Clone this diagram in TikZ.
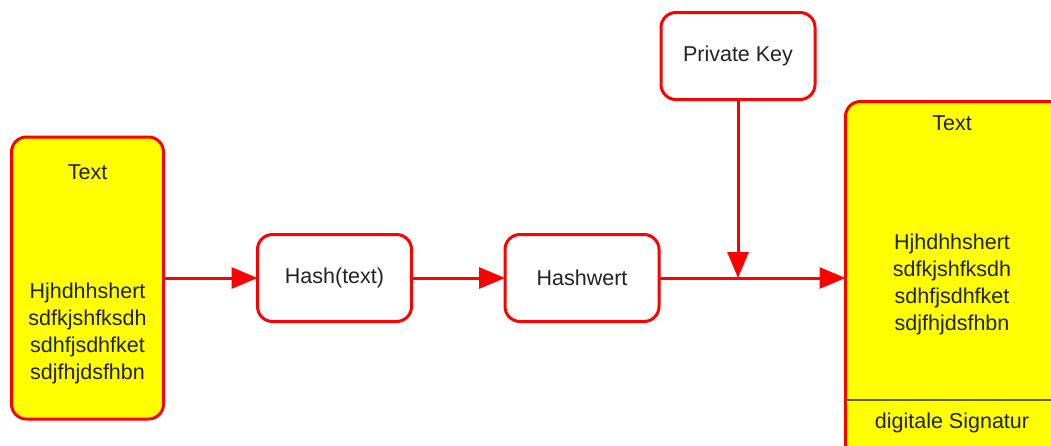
\documentclass[tikz,border=0pt]{standalone}
\usepackage{fontspec}
\setmainfont{Liberation Sans}
\usetikzlibrary{arrows.meta,calc}
\definecolor{flowred}{RGB}{255,0,0}
\definecolor{docyellow}{RGB}{255,255,0}
\definecolor{divider}{RGB}{95,95,30}
\definecolor{ink}{RGB}{35,35,35}
\begin{document}
\begin{tikzpicture}[x=1pt,y=-1pt,
  every node/.style={inner sep=0pt, outer sep=0pt, text=ink, font=\fontsize{21.5}{27}\selectfont},
  procbox/.style={draw=flowred, line width=3pt, rounded corners=15pt, fill=white,
    minimum width=154pt, minimum height=87pt},
  docbox/.style={draw=flowred, line width=3pt, rounded corners=15pt, fill=docyellow},
  flow/.style={draw=flowred, line width=3pt, -{Triangle[length=26pt,width=21pt]}},
  lines/.style={align=center}]
\clip (0,0) rectangle (1051,445);
\fill[white] (0,0) rectangle (1051,445);

% source document
\node[docbox, minimum width=152pt, minimum height=282pt] (src) at (87.5,278) {};
\node (srctitle) at (87.5,172) {Text};
\node[lines] (srcbody) at (87.5,333) {Hjhdhhshert\\sdfkjshfksdh\\sdhfjsdhfket\\sdjfhjdsfhbn};

% processing steps
\node[procbox] (hash) at (334.5,278) {Hash(text)};
\node[procbox] (hw) at (582,278) {Hashwert};
\node[procbox] (pk) at (738,56) {Private Key};

% signed document
\node[docbox, anchor=north west, minimum width=220pt, minimum height=360pt] (dst) at (845.5,101.5) {};
\draw[divider, line width=2.5pt] (dst.west |- 0,400) -- (dst.east |- 0,400);
\node (dsttitle) at (952,123) {Text};
\node[lines] (dstbody) at (952,284) {Hjhdhhshert\\sdfkjshfksdh\\sdhfjsdhfket\\sdjfhjdsfhbn};
\node (sig) at (952,423) {digitale Signatur};

% connectors
\draw[flow] (src.east |- hash.west) -- (hash.west);
\draw[flow] (hash.east) -- (hw.west);
\draw[flow] (hw.east) -- (hw.east -| dst.west);
\coordinate (join) at (pk.south |- hw.east);
\draw[flow] (pk.south) -- (join);
\end{tikzpicture}
\end{document}
